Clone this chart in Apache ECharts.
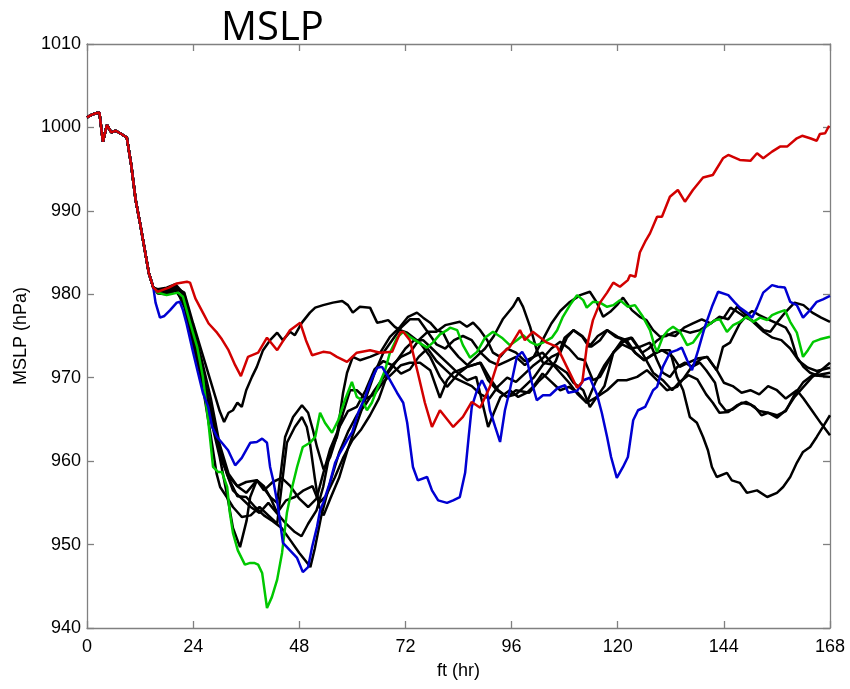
<!DOCTYPE html>
<html><head><meta charset="utf-8">
<script src="https://cdn.jsdelivr.net/npm/echarts@6/dist/echarts.min.js"></script>
<style>html,body{margin:0;padding:0;background:#fff}#c{width:850px;height:689px}</style>
</head><body><div id="c"></div>
<script>
// x: forecast time (hr), y: MSLP (hPa)
const xTicks = [0, 24, 48, 72, 96, 120, 144, 168];
const yTicks = [940, 950, 960, 970, 980, 990, 1000, 1010];

const commonStart = [[0,1001.2],[1,1001.5],[2,1001.7],[2.8,1001.8],[3.6,998.3],[4.5,1000.3],[5.5,999.4],[6.5,999.6],[7.5,999.3],[9,998.8],[10,995.5],[11,991.3],[12,988.5],[13,985.5],[14,982.5],[15,980.8]];

const black1 = [[16,980.4],[18,980.5],[20,980.8],[22,980.2],[24,976.5],[26,973],[28,969.5],[30,966],[31,964.7],[32,965.8],[33,966.1],[34,967],[35,966.5],[36,968.5],[37.3,970.1],[38.4,971.3],[39.8,973.3],[41.4,974.5],[43,975.4],[44.3,974.5],[45.9,975.5],[47,975.1],[48.6,976.6],[50.4,977.8],[51.6,978.4],[53.4,978.7],[55.6,979],[57.7,979.2],[59,978.7],[60.1,977.8],[61.7,978.5],[64,978.4],[65.6,976.6],[66.7,976.7],[68.1,976.9],[69.6,976.1],[70.8,975.7],[72.4,975.4],[75.3,974.2],[77.6,972.5],[79.8,970.1],[81.4,968.9],[84,970.5],[86,971.3],[89,971.8],[91,970],[93,968.5],[95,967.7],[97,968.5],[100,968.2],[102,969.5],[104,970.5],[106,972],[108,974.8],[110,975.7],[112,975],[114,973.7],[116,974.5],[117.6,975.7],[120,974.9],[122,974.5],[124,973],[126,972.1],[128,972.8],[130,973.3],[131.8,973.3],[133.4,970.1],[134.8,968.5],[136.3,965.3],[137.9,964.6],[139.3,962.9],[140.4,961.3],[141.3,959.3],[142.4,958.1],[144.7,958.6],[145.8,957.7],[147.6,957.4],[149.2,956.2],[151.5,956.5],[153.8,955.7],[156,956.2],[157.4,956.9],[159,958.1],[160.5,959.8],[161.9,961.1],[163.5,961.7],[165,962.9],[166.4,964.1],[168,965.5]];

const black2 = [[16,980.6],[18,980.8],[20,981.2],[22,980],[24,976],[26,972],[28,967.5],[30,962],[32,958.5],[34,957],[36,957.5],[38.4,957.7],[39.8,956.9],[41.4,955.7],[43,955],[44.8,962.9],[46.6,965.3],[48.6,966.7],[50,965.8],[51.1,963.7],[52,961.7],[53.5,959],[55,960.5],[56.5,963],[57.9,968.2],[58.8,970.6],[60.1,972.5],[61.7,972.1],[64,972.5],[66.3,973],[68.5,974.9],[70.8,976.1],[72.6,977.3],[74.6,977.8],[76,977.2],[77.6,976.6],[79.1,975.7],[80.5,975.4],[82.1,973.7],[84,972.5],[86,971.5],[88,972.5],[90,973.5],[92,975],[94,977],[96.3,978.5],[97.5,979.6],[98.6,978.5],[100.2,976.1],[101.7,973.3],[103.1,971.8],[106,971.5],[108.5,970.6],[110,969.4],[112.2,968.5],[113.7,966.5],[115.3,967.7],[117.6,968.5],[120,969.7],[122,969.7],[124.4,970.1],[126.6,970.9],[128.9,969.7],[131.1,968.5],[133.4,968.9],[135,970],[137,971.5],[139,972.3],[140.2,972.5],[142.4,970.9],[143.8,973.7],[145.4,974.2],[147.6,976.5],[149.2,977.5],[150.4,978],[152,977.5],[154,977],[156,976.5],[158,976],[159,975.1],[160.5,972.5],[162,971.3],[163.5,970.6],[165,970.3],[168,970.6]];

const black3 = [[16,980.2],[18,980.2],[20,980.5],[22,979],[24,975],[26,970.5],[28,966],[30,961.5],[32,958],[34,955.8],[36,955.7],[38,954.5],[40,953.5],[42,952.8],[44,952],[46,950.5],[48,949],[49.5,948],[50.5,947.3],[51.5,949.5],[53,953.5],[55,957.5],[57,961],[59,963.5],[61,965.5],[63,966.8],[65,968.5],[67,970],[69,971.5],[71,972.5],[73,973],[75,974.5],[77,975.5],[79,975.5],[81,976.3],[84.3,976.7],[85.9,976.1],[87.3,976.6],[88.9,975.7],[90.5,974.5],[91.8,973],[93.4,972.5],[95,973.5],[97,973],[99,972],[101,972.5],[103,974.5],[105,976.5],[107,978],[109,979],[111.5,979.9],[113.7,980.3],[115.3,979],[116.7,977.3],[118.3,977.9],[120,978.8],[121.2,979.6],[123.2,978.1],[125,977.3],[126.5,976.9],[128,975.7],[129.6,974.9],[131,975],[132.5,975.4],[134.5,975.7],[136.3,975.4],[138.6,975.7],[140.4,976.3],[142,976.9],[144,977.2],[145.5,978.4],[147,977.9],[149,977.2],[151,976.7],[153,975.7],[154.5,975.5],[156,976.6],[158,977.9],[160,979],[162,978.7],[164,977.8],[166,977.2],[168,976.7]];

const black4 = [[16,980.5],[18,980.6],[20,981],[22,979.8],[24,975.5],[26,970],[28,965],[30,960.5],[32,955],[33,952],[34.6,949.7],[36.1,952.9],[36.9,955.7],[38.4,957.7],[40,957],[41.4,955.7],[43,953.8],[45,955.3],[47,955.7],[49,956.5],[51,957],[52.5,955],[54,955.8],[56,958],[58,960.5],[60,962.5],[62,963.8],[64,965.5],[66,967.5],[68,970.5],[70,972],[72,973.5],[74,974.5],[76,974.5],[78,973.5],[80,972.5],[82,971.5],[84,970.5],[86,969.7],[88,970.1],[90.7,964.1],[92,965.8],[93.5,967.7],[95.6,968.5],[97.5,967.7],[99.5,968.2],[101,969],[103,970.5],[105,969.5],[107,968.5],[109,968.9],[111,968.2],[113,967],[115.3,967.7],[117,969],[119,973],[121,974.2],[123.2,974.8],[125.5,973],[128,970.6],[130.2,969.7],[132.3,968.5],[134,969.5],[136,970.3],[138,969.8],[140,968],[141.5,967],[143,965.8],[145,965.9],[147,966.7],[149,967.1],[151,966.5],[152.5,965.5],[154,965.8],[156,965.2],[158,966.1],[160,967.7],[162,968.9],[164,970.1],[166,970.9],[168,971.8]];

const black5 = [[16,980.3],[18,980.3],[20,980.6],[22,979],[24,975],[26,970.5],[28,966],[30,961.5],[31.6,958.5],[33,956.5],[35,955.5],[37,954.5],[39,953.8],[41,955],[42.9,953.8],[45,952.5],[47,951.5],[48.5,951],[50,952.5],[51.9,954.1],[53.4,956.9],[54.9,961],[56.5,962.9],[57.9,965.8],[59.5,968.5],[61,968.5],[63,967.5],[65,968],[67,969.5],[69,970.5],[71,971.5],[73,971.8],[75.3,971.8],[77.6,970.9],[79.8,967.6],[81.4,969.7],[82.8,970.6],[85.9,971.3],[88.9,971.8],[90.7,969.7],[92.7,968.5],[95,967.7],[97,968],[99,969],[101,970],[103,971.5],[105,972.5],[107,973],[108.5,974.8],[110,975.7],[112,974.9],[113.5,973.7],[115.5,975],[117.6,975.7],[119.5,974.9],[121.5,974.5],[123.9,973],[126,972.1],[128,972.8],[130,973.3],[132.5,972.5],[134,971.3],[136,971.8],[138,972.3],[140.2,972.5],[142.4,970.9],[144,969.4],[146,969],[148,968.2],[150,968.5],[152,968],[154,969],[156,968.5],[158,967.5],[160.5,968.5],[162,967.5],[164,966],[166,964.5],[168,963.1]];

const black6 = [[16,980.4],[18,980.4],[20,980.8],[22,978.5],[24,974],[26,969.5],[28,963],[29.3,958.5],[30.1,956.9],[31.6,955.7],[33,954.5],[35,953.3],[37,953.5],[39,954.5],[41,953.5],[43,952.5],[45.2,962.2],[47,964.1],[48.6,965.3],[49.7,964.1],[50.4,962.2],[51.5,958],[52.5,954.5],[53.5,953.5],[55,955.5],[57,958],[59,961.5],[61,964.5],[63,967.5],[65,970.5],[67,973],[69,974.5],[71,976],[73,977],[75,977],[77,975.5],[79,974],[81,973.5],[83,974.5],[85,975],[87,974.5],[89,973],[91,972],[93,971.5],[95,972],[97,972.5],[99,971.5],[101,972.5],[103,973],[105,971.8],[107,970.6],[109,969.4],[111,968],[113,967],[115,969.5],[117,971.5],[119,973],[121,974],[123,973.5],[125,973.7],[127.3,974.2],[128.9,972.1],[130.2,970.6],[131.8,970.1],[133.5,971.3],[135.2,971.8],[136.8,971.3],[138.6,971.8],[140,970.9],[142,969.4],[143,967],[144.5,966],[146,966.2],[148,967],[150,966.8],[152,966],[154,965.8],[156,965.5],[158,966],[160,968],[162,969.5],[164,970.3],[166,970.2],[168,970.1]];

const black7 = [[16,980.1],[18,980],[20,980.4],[22,979.2],[24,975.8],[26,971],[28,966.5],[29.3,963],[30.5,960],[32,958.2],[34,957],[36,956.2],[38.4,957.7],[40,956.5],[42,957.5],[44,958],[46,957],[48,955.5],[50,954.5],[51.9,955.5],[53.4,958.5],[55,961.5],[57,964],[59,966],[61,966.5],[63,968.5],[65,971],[67,972],[69,971.5],[71,970.5],[73,971],[75,972.5],[77,973.5],[79,972],[81,971],[83,970],[85,969.5],[87,969],[89,968],[91,967.5],[93,969],[95,970],[97,969.5],[99,970.5],[101,971.5],[103,972.3],[105,973.5],[107,974.3],[109,973.5],[111,972.3],[112.5,972.1],[114.4,969.7],[116,970.1],[119,973],[121,974.5],[123,974.8],[125.5,973],[127,973.5],[129,974.5],[131,975.2],[133,975],[135,976],[137,976.5],[139,977],[141,976.5],[143,977.3],[145,977],[147,978.5],[149,977.5],[151,976.5],[153,975.5],[155,974.8],[157,974.5],[159,973.5],[161,972],[163,971.2],[165,970.8],[168,971.2]];

const green = [[16,980.2],[18,979.9],[20.6,980.2],[21.7,979.7],[23.3,976.6],[24.9,973.7],[26.2,970.1],[27.4,964.9],[28.5,959.3],[29.6,958.7],[30.5,958.7],[31.7,956.9],[32.3,953.8],[33,951.4],[34.1,949.3],[35.7,947.6],[36.9,947.8],[37.8,947.8],[38.7,947.6],[39.6,946.6],[40.7,942.4],[41.8,943.7],[43,945.8],[44.1,949],[45.2,953.8],[46.4,956.9],[47.5,959.3],[48.8,961.7],[50.4,962.2],[51.6,962.9],[52.7,965.8],[53.8,964.6],[55.4,963.4],[56.8,964.9],[58.3,967.3],[59.9,969.5],[61,967.7],[62.2,967.3],[63.3,966.1],[64.4,967],[65.8,968.9],[67.4,970.9],[68.5,973],[70.1,974.8],[71.5,975.5],[73,974.9],[74.8,974.3],[76.9,973.6],[78.2,974.2],[79.8,975.2],[81.4,975.7],[82.1,976],[83.7,975.7],[85,973.9],[86.6,972.4],[88.2,973.1],[90,974.8],[91.8,975.5],[93.8,974.8],[95.6,973.9],[97.2,974.5],[98.6,975.1],[100.2,974.3],[101.7,973.9],[103.1,974.2],[105.1,974.8],[106.3,975.7],[107.6,977.3],[109.2,978.7],[110.8,979.9],[112.2,979.3],[113,978.4],[114.4,979.1],[116,979],[117.6,978.5],[119,978.7],[120.5,979.3],[122.3,978.5],[123.9,978.7],[125.7,977.3],[127.3,975.7],[128.4,973.7],[128.9,973.1],[130.2,974.9],[131.4,975.7],[132.5,976.1],[134.1,975.5],[135.7,973.9],[137,974.2],[138.6,975.4],[140.4,976.3],[142,976.9],[143.1,977],[144.7,975.5],[146.1,976.3],[147.6,976.7],[149.2,977.3],[150.6,976.7],[152.2,977.2],[153.8,976.9],[154.9,977.5],[156.2,977.8],[157.8,978.1],[159,976.7],[160.5,975.4],[161.9,972.5],[163,973.3],[164.2,974.3],[165.7,974.6],[168,974.9]];

const blue = [[15.5,979],[16.5,977.2],[17.5,977.4],[18.8,978.1],[20.3,979],[21,979.1],[21.7,978.1],[22.5,976.5],[23.7,973.7],[25,970.8],[26.2,968.2],[27.4,966.5],[28.3,964.1],[29.4,962.9],[30.5,962.2],[31.9,961.3],[33.5,959.5],[35,960.4],[36.9,962.2],[38.4,962.3],[39.6,962.7],[40.7,962.2],[41.4,959.3],[42.1,957.7],[43.2,954.5],[44.3,950.2],[45.9,949.3],[47.5,948.4],[48.8,946.7],[50,947.3],[50.9,949.7],[52,952.1],[52.7,954.1],[53.4,955],[54.9,957.4],[56.1,959.8],[57.2,961],[58.8,962.5],[60,963.5],[61.3,965.8],[62.9,967.7],[64,969.4],[65.6,971.2],[66.7,971.3],[68.1,970.1],[70.1,968.2],[71.5,967],[72.4,964.6],[73.7,959.3],[74.8,957.7],[76.9,958.1],[78,956.5],[79.4,955.3],[81.4,955],[82.8,955.3],[84.3,955.7],[85.5,958.6],[86.3,962.9],[87,966.5],[88.2,968.5],[89.3,969.7],[90.4,968.5],[91.1,966.1],[92.3,964.1],[93.4,962.3],[94.5,966.1],[95.6,968.5],[97.2,972.5],[98.4,973.1],[99.5,972.1],[100.6,969.4],[101.7,967.3],[103.1,967.9],[104.7,967.9],[106.5,968.8],[108.1,969.1],[108.8,968.2],[110.8,968.4],[112.2,969.7],[113.7,970],[115.3,968],[116.4,965.8],[117.6,962.9],[118.5,960.5],[119.8,958],[121.2,959.3],[122.3,960.5],[123.5,964.9],[124.6,966.1],[126.2,966.5],[128,968.5],[128.9,968.9],[130.2,971.3],[131.8,973],[133.4,973.3],[134.5,973.6],[135.7,972.1],[136.8,970.9],[138.2,973.3],[139.7,976.1],[141.3,978.5],[142.7,980.3],[145,979.9],[146.5,979],[147.6,978.4],[149.2,977.8],[150.4,977.2],[151.5,978.4],[152.9,980.2],[154.9,981.1],[156.2,980.9],[157.8,980.8],[159,979.1],[160.5,978.7],[161.9,977.2],[163.5,978.1],[165,979.1],[166.4,979.4],[168,979.8]];

const red = [[16,980.3],[17,980.5],[18.5,980.8],[20.3,981.3],[22.6,981.5],[23.3,981.4],[24.5,979.5],[26.2,977.8],[27.5,976.5],[29.4,975.4],[30.5,974.6],[32,973.3],[33.5,971.5],[34.8,970.2],[36.4,972.5],[38.7,973],[40.7,974.8],[43,973.3],[45.9,975.7],[48.2,976.6],[49.5,974.5],[50.9,972.7],[53.4,973.1],[55,973],[56.5,972.5],[58.8,971.9],[61,973],[64,973.3],[66.3,973],[69,973.1],[70.8,975.4],[71.5,975.5],[73,974.5],[74.8,970.6],[76.4,967],[78,964.1],[79.8,966.1],[81.6,964.9],[82.8,964.1],[85,965.3],[87,967.1],[88.9,966.4],[91.1,968.9],[93.4,972.7],[95.6,973.7],[97.9,975.7],[99,974.5],[100.8,975.5],[104,974.2],[106.3,973.7],[108.5,971.3],[110.8,968.8],[112,969.5],[113,973.7],[114.4,976.9],[116,979],[117.6,980.2],[119,981.4],[120.5,980.9],[122.3,981.7],[122.8,982.3],[124,982.1],[125,985],[126.2,986.3],[127.3,987.3],[128.9,989.3],[130,989.3],[131.8,991.7],[133.6,992.5],[135.2,991.1],[137,992.5],[139.3,994],[141.5,994.3],[143.8,996.3],[145,996.7],[147.6,996.1],[150,996],[151.5,996.9],[152.9,996.3],[154.9,997.1],[156.7,997.7],[158.3,997.7],[160.5,998.7],[161.7,999],[163.5,998.7],[165,998.4],[165.7,999.2],[166.9,999.3],[167.8,1000.2]];

const members = [
  {name:'m1', data:black1, color:'#000000'},
  {name:'m2', data:black2, color:'#000000'},
  {name:'m3', data:black3, color:'#000000'},
  {name:'m4', data:black4, color:'#000000'},
  {name:'m5', data:black5, color:'#000000'},
  {name:'m6', data:black6, color:'#000000'},
  {name:'m7', data:black7, color:'#000000'},
  {name:'green', data:green, color:'#00c800'},
  {name:'blue', data:blue, color:'#0000d2'},
  {name:'red', data:red, color:'#d20000'}
];

const font = "'Liberation Sans', Arial, sans-serif";
const axisCommon = {
  axisLine:{show:true, onZero:false, lineStyle:{color:'#808080', width:1.3}},
  axisTick:{show:true, inside:true, length:7, lineStyle:{color:'#808080', width:1.3}},
  splitLine:{show:false}
};

const chart = echarts.init(document.getElementById('c'), null, {renderer:'canvas'});
chart.setOption({
  animation:false,
  backgroundColor:'#ffffff',
  title:{text:'MSLP', left:216, top:4, textStyle:{fontFamily:"'Open Sans', 'Noto Sans', sans-serif", fontSize:40, fontWeight:'normal', color:'#000'}},
  grid:{left:87, right:20, top:44, bottom:61, show:false},
  xAxis:[
    Object.assign({type:'value', min:xTicks[0], max:xTicks[xTicks.length-1], interval:24, position:'bottom',
      name:'ft (hr)', nameLocation:'middle', nameGap:34,
      nameTextStyle:{fontFamily:font, fontSize:18, color:'#000'},
      axisLabel:{fontFamily:font, fontSize:18, color:'#000', margin:10, formatter:v => String(v)}}, axisCommon),
    Object.assign({type:'value', min:xTicks[0], max:xTicks[xTicks.length-1], interval:24, position:'top',
      axisLabel:{show:false}}, axisCommon)
  ],
  yAxis:[
    Object.assign({type:'value', min:yTicks[0], max:yTicks[yTicks.length-1], interval:10, position:'left',
      name:'MSLP (hPa)', nameLocation:'middle', nameGap:56, nameRotate:90,
      nameTextStyle:{fontFamily:font, fontSize:18, color:'#000'},
      axisLabel:{fontFamily:font, fontSize:18, color:'#000', margin:6, formatter:v => String(v)}}, axisCommon),
    Object.assign({type:'value', min:yTicks[0], max:yTicks[yTicks.length-1], interval:10, position:'right',
      axisLabel:{show:false}}, axisCommon)
  ],
  series: members.map(m => ({
    name:m.name, type:'line', xAxisIndex:0, yAxisIndex:0,
    data: commonStart.concat(m.data),
    showSymbol:false, symbol:'none', smooth:false,
    lineStyle:{color:m.color, width:2.5},
    itemStyle:{color:m.color},
    emphasis:{disabled:true}
  }))
});
</script></body></html>
